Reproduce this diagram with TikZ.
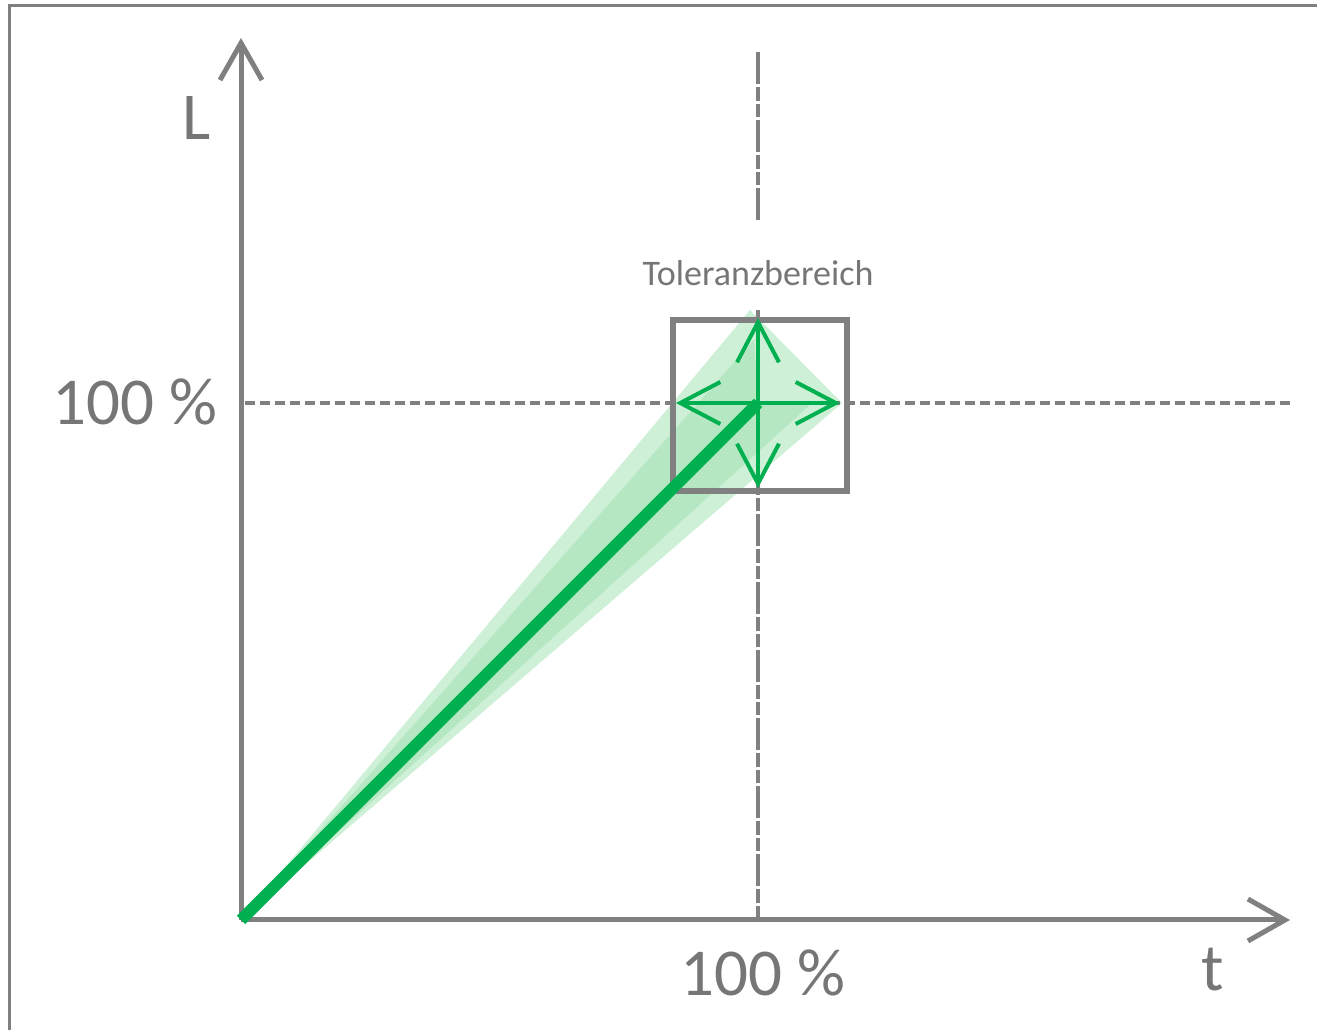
\documentclass[tikz,border=0pt]{standalone}
\usepackage{fontspec}
\setmainfont{Carlito}
\usetikzlibrary{arrows.meta}
\definecolor{axgray}{RGB}{128,128,128}
\definecolor{txtgray}{RGB}{118,118,118}
\definecolor{xlgreen}{RGB}{0,176,80}
\definecolor{bandlight}{RGB}{205,240,214}
\definecolor{banddark}{RGB}{165,227,182}
\tikzset{
  axis/.style={draw=axgray, line width=5pt, -{Straight Barb[length=37pt,width=42pt,line width=5pt]}},
  guide/.style={draw=axgray, line width=3.5pt, dash pattern=on 10pt off 5pt},
  vguide/.style={draw=axgray, line width=3.5pt, dash pattern=on 32pt off 3pt on 14pt off 3pt on 13pt off 3pt},
  tolbox/.style={draw=axgray, line width=6pt},
  tolarrow/.style={draw=xlgreen, line width=4pt, -{Straight Barb[length=40pt,width=42pt,line width=4pt]}},
  mainline/.style={draw=xlgreen, line width=12pt},
  lbl/.style={text=txtgray, font=\fontsize{67}{72}\selectfont, inner sep=0pt},
  smalllbl/.style={text=txtgray, font=\fontsize{36}{40}\selectfont, inner sep=0pt},
  frame/.style={draw=axgray, line width=3pt}
}
\begin{document}
\begin{tikzpicture}[x=1pt,y=1pt]
\useasboundingbox (0,0) rectangle (1317,1030);
% frame
\coordinate (F1) at (9,0);
\coordinate (F2) at (9,1024);
\coordinate (F3) at (1317,1024);
\draw[frame] (F1) -- (F2) -- (F3);
% key points
\coordinate (O) at (241,110);
\coordinate (C) at (758,627);
\coordinate (Ytip) at (241,992);
\coordinate (Xtip) at (1290,110);
\coordinate (BT) at (750,720);
\coordinate (BR) at (842,627);
\coordinate (BTi) at (754,690);
\coordinate (BRi) at (812,627);
% tolerance band
\fill[bandlight] (O) -- (BT) -- (BR) -- cycle;
\fill[banddark, opacity=0.6] (O) -- (BTi) -- (C) -- (BRi) -- cycle;
% guide lines
\coordinate (Hl) at (245,627);
\coordinate (Hr) at (1292,627);
\draw[guide] (Hl) -- (Hr);
\coordinate (Vtop) at (758,978);
\coordinate (Vmid) at (758,808);
\coordinate (Vlow) at (758,720);
\coordinate (Vbot) at (758,112);
\draw[vguide] (Vtop) -- (Vmid);
\draw[vguide] (Vlow) -- (Vbot);
% axes
\draw[axis] (O) -- (Ytip);
\draw[axis] (O) -- (Xtip);
% tolerance box
\coordinate (B1) at (673,539);
\coordinate (B2) at (847,710);
\draw[tolbox] (B1) rectangle (B2);
% main line
\draw[mainline] (O) -- (C);
% tolerance arrows
\coordinate (Au) at (758,712);
\coordinate (Ad) at (758,542);
\coordinate (Al) at (676,627);
\coordinate (Ar) at (840,627);
\draw[tolarrow] (C) -- (Au);
\draw[tolarrow] (C) -- (Ad);
\draw[tolarrow] (C) -- (Al);
\draw[tolarrow] (C) -- (Ar);
% labels
\node[lbl] (Llbl) at (197,912) {L};
\node[lbl] (tlbl) at (1213,60) {t};
\node[lbl] (ylbl) at (135,628) {100 \%};
\node[lbl] (xlbl) at (763,57) {100 \%};
\node[smalllbl] (tol) at (758,757) {Toleranzbereich};
\end{tikzpicture}
\end{document}
